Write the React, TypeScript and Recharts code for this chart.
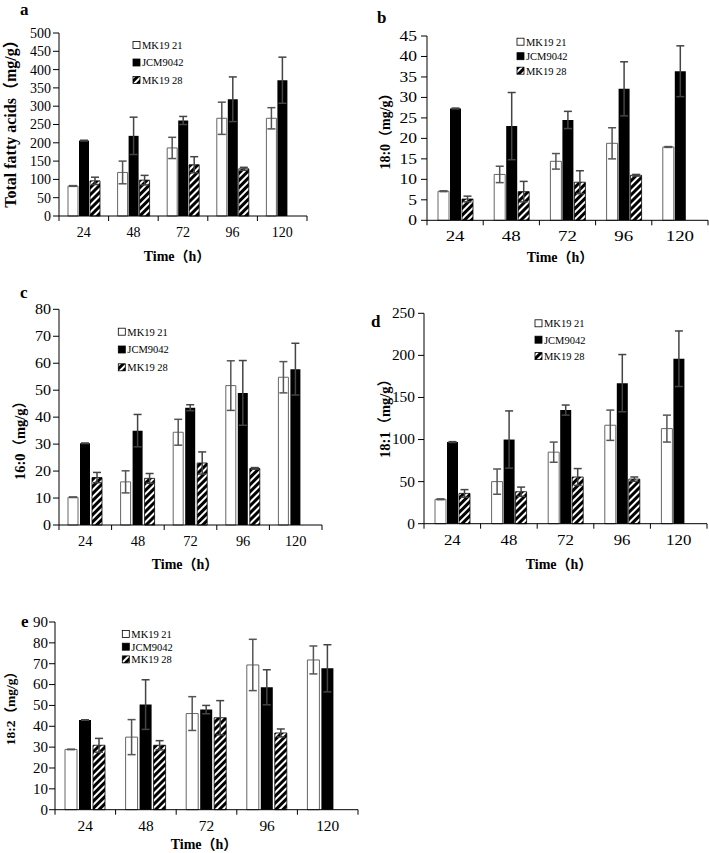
import React from "react";
import { BarChart, Bar, XAxis, YAxis, ErrorBar } from "recharts";

const times = ["24", "48", "72", "96", "120"];
const seriesNames = ["MK19 21", "JCM9042", "MK19 28"];

// a: total fatty acids
const totalMk21 = [82, 119, 186, 267, 267];
const totalMk21Err = [1, 31, 29, 44, 29];
const totalJcm = [206, 219, 261, 319, 371];
const totalJcmErr = [1, 51, 11, 61, 63];
const totalMk28 = [96, 98, 140, 129, null];
const totalMk28Err = [10, 13, 22, 4, null];
const totalTicks = [0, 50, 100, 150, 200, 250, 300, 350, 400, 450, 500];

// b: 18:0
const c180Mk21 = [7.1, 11.2, 14.4, 18.8, 17.9];
const c180Mk21Err = [0.1, 2.0, 1.9, 3.8, 0.1];
const c180Jcm = [27.3, 23.0, 24.5, 32.1, 36.4];
const c180JcmErr = [0.1, 8.2, 2.1, 6.6, 6.2];
const c180Mk28 = [5.2, 7.0, 9.3, 11.0, null];
const c180Mk28Err = [0.7, 2.5, 2.8, 0.2, null];
const c180Ticks = [0, 5, 10, 15, 20, 25, 30, 35, 40, 45];

// c: 16:0
const c160Mk21 = [10.3, 16.0, 34.4, 51.7, 54.8];
const c160Mk21Err = [0.1, 4.1, 4.8, 9.2, 5.8];
const c160Jcm = [30.3, 35.0, 43.5, 49.0, 57.8];
const c160JcmErr = [0.1, 6.0, 1.1, 12.0, 9.6];
const c160Mk28 = [17.6, 17.3, 23.0, 21.0, null];
const c160Mk28Err = [1.9, 1.8, 4.1, 0.3, null];
const c160Ticks = [0, 10, 20, 30, 40, 50, 60, 70, 80];

// d: 18:1
const c181Mk21 = [29, 50, 85, 117, 113];
const c181Mk21Err = [0.5, 15, 12, 18, 16];
const c181Jcm = [97, 100, 135, 167, 196];
const c181JcmErr = [0.5, 34, 6, 34, 33];
const c181Mk28 = [36, 38, 55.5, 53, null];
const c181Mk28Err = [4.5, 5.5, 10, 2.5, null];
const c181Ticks = [0, 50, 100, 150, 200, 250];

// e: 18:2
const c182Mk21 = [28.9, 34.8, 46.1, 69.4, 71.8];
const c182Mk21Err = [0.1, 8.4, 8.1, 12.3, 6.7];
const c182Jcm = [43.0, 50.4, 48.0, 58.7, 67.8];
const c182JcmErr = [0.1, 11.9, 2.0, 8.4, 11.3];
const c182Mk28 = [30.9, 30.9, 44.1, 36.8, null];
const c182Mk28Err = [3.3, 2.2, 8.2, 1.9, null];
const c182Ticks = [0, 10, 20, 30, 40, 50, 60, 70, 80, 90];

const SERIF = "'Liberation Serif', 'Times New Roman', Times, serif";
const TITLE_FONT = "'Liberation Serif', 'Times New Roman', 'Noto Sans CJK SC', serif";

function XTick(props: any) {
  const { x, y, payload, index, band, sx } = props;
  const left = x - band / 2;
  return (
    <g>
      <line x1={left} y1={y} x2={left} y2={y + 5} stroke="#000" />
      {index === times.length - 1 && (
        <line x1={x + band / 2} y1={y} x2={x + band / 2} y2={y + 5} stroke="#000" />
      )}
      <text
        transform={`translate(${x},${y + 21}) scale(${sx},1)`}
        textAnchor="middle"
        fontSize={14}
        fontFamily={SERIF}
        fill="#000"
      >
        {payload.value}
      </text>
    </g>
  );
}

function YTick(props: any) {
  const { x, y, payload, sx } = props;
  return (
    <text
      transform={`translate(${x},${y}) scale(${sx},1)`}
      textAnchor="end"
      dy="0.35em"
      fontSize={14}
      fontFamily={SERIF}
      fill="#000"
    >
      {payload.value}
    </text>
  );
}

function Panel(p: any) {
  const data = times.map((t, i) => ({
    t,
    mk21: p.mk21[i],
    mk21Err: p.mk21Err[i],
    jcm: p.jcm[i],
    jcmErr: p.jcmErr[i],
    mk28: p.mk28[i],
    mk28Err: p.mk28Err[i],
  }));
  const plotW = p.width - p.margin.left - p.margin.right - 45;
  const band = plotW / times.length;
  const hatchId = `hatch-${p.letter}`;
  const fills = ["#fff", "#000", `url(#${hatchId})`];
  return (
    <div style={{ position: "absolute", left: p.left, top: p.top }}>
      <BarChart
        width={p.width}
        height={p.height}
        data={data}
        margin={p.margin}
        barGap={p.barGap}
      >
        <defs>
          <pattern
            id={hatchId}
            width={5}
            height={5}
            patternUnits="userSpaceOnUse"
            patternTransform="rotate(45)"
          >
            <rect width={5} height={5} fill="#fff" />
            <rect width={3} height={5} fill="#000" />
          </pattern>
        </defs>
        <XAxis
          dataKey="t"
          height={30}
          interval={0}
          axisLine={{ stroke: "#000" }}
          tickLine={false}
          tickSize={0}
          tickMargin={0}
          tick={(tp: any) => <XTick {...tp} band={band} sx={p.xScale} />}
        />
        <YAxis
          type="number"
          width={45}
          domain={[0, p.yTicks[p.yTicks.length - 1]]}
          ticks={p.yTicks}
          interval={0}
          axisLine={{ stroke: "#000" }}
          tickLine={{ stroke: "#000" }}
          tickSize={6}
          tickMargin={p.tickMargin}
          tick={(tp: any) => <YTick {...tp} sx={p.yScale} />}
        />
        <Bar
          dataKey="mk21"
          name={seriesNames[0]}
          fill="#fff"
          stroke="#666"
          barSize={p.barSize}
          isAnimationActive={false}
        >
          <ErrorBar dataKey="mk21Err" width={4} stroke="#555" direction="y" />
        </Bar>
        <Bar
          dataKey="jcm"
          name={seriesNames[1]}
          fill="#000"
          barSize={p.barSize}
          isAnimationActive={false}
        >
          <ErrorBar dataKey="jcmErr" width={4} stroke="#444" direction="y" />
        </Bar>
        <Bar
          dataKey="mk28"
          name={seriesNames[2]}
          fill={`url(#${hatchId})`}
          stroke="#000"
          strokeWidth={0.8}
          barSize={p.barSize}
          isAnimationActive={false}
        >
          <ErrorBar dataKey="mk28Err" width={4} stroke="#444" direction="y" />
        </Bar>

        <text
          x={p.letterPos[0]}
          y={p.letterPos[1]}
          fontSize={17}
          fontWeight="bold"
          fontFamily={SERIF}
          fill="#000"
        >
          {p.letter}
        </text>
        <text
          transform={`translate(${p.yTitle[0]},${p.yTitle[1]}) rotate(-90)`}
          textAnchor="middle"
          dy="0.35em"
          fontSize={p.yTitle[2]}
          fontWeight="bold"
          fontFamily={TITLE_FONT}
          fill="#000"
        >
          {p.yLabel}
        </text>
        <text
          x={p.xTitle[0]}
          y={p.xTitle[1]}
          textAnchor="middle"
          fontSize={14}
          fontWeight="bold"
          fontFamily={TITLE_FONT}
          fill="#000"
        >
          Time（h）
        </text>
        {seriesNames.map((name, i) => {
          const ry = p.legend[1] + i * p.legend[2];
          return (
            <g key={name}>
              <rect
                x={p.legend[0]}
                y={ry - 3.5}
                width={7}
                height={7}
                fill={fills[i]}
                stroke="#000"
                strokeWidth={0.8}
              />
              <text
                x={p.legend[0] + 9}
                y={ry + 3.8}
                fontSize={10.5}
                fontFamily={SERIF}
                fill="#000"
              >
                {name}
              </text>
            </g>
          );
        })}
      </BarChart>
    </div>
  );
}

export default function App() {
  return (
    <div
      style={{
        position: "absolute",
        left: 0,
        top: 0,
        width: 709,
        height: 853,
        background: "#fff",
        overflow: "hidden",
      }}
    >
      <Panel
        letter="a"
        yLabel="Total fatty acids（mg/g）"
        mk21={totalMk21}
        mk21Err={totalMk21Err}
        jcm={totalJcm}
        jcmErr={totalJcmErr}
        mk28={totalMk28}
        mk28Err={totalMk28Err}
        yTicks={totalTicks}
        left={0}
        top={0}
        width={320}
        height={270}
        margin={{ top: 33, right: 13, bottom: 24, left: 14 }}
        barSize={10}
        barGap={1}
        xScale={1}
        yScale={1}
        tickMargin={2}
        letterPos={[20, 15]}
        yTitle={[10, 120, 16]}
        xTitle={[177, 261]}
        legend={[133, 45, 17.5]}
      />
      <Panel
        letter="b"
        yLabel="18:0（mg/g）"
        mk21={c180Mk21}
        mk21Err={c180Mk21Err}
        jcm={c180Jcm}
        jcmErr={c180JcmErr}
        mk28={c180Mk28}
        mk28Err={c180Mk28Err}
        yTicks={c180Ticks}
        left={350}
        top={0}
        width={359}
        height={270}
        margin={{ top: 36, right: 1, bottom: 19.7, left: 32 }}
        barSize={11}
        barGap={1}
        xScale={1.35}
        yScale={1.25}
        tickMargin={4}
        letterPos={[27, 23]}
        yTitle={[35, 128, 14]}
        xTitle={[210, 262]}
        legend={[167, 41.7, 14.5]}
      />
      <Panel
        letter="c"
        yLabel="16:0（mg/g）"
        mk21={c160Mk21}
        mk21Err={c160Mk21Err}
        jcm={c160Jcm}
        jcmErr={c160JcmErr}
        mk28={c160Mk28}
        mk28Err={c160Mk28Err}
        yTicks={c160Ticks}
        left={0}
        top={280}
        width={330}
        height={295}
        margin={{ top: 29.3, right: 8, bottom: 20, left: 14 }}
        barSize={10}
        barGap={2}
        xScale={1.03}
        yScale={1.15}
        tickMargin={2}
        letterPos={[20, 18]}
        yTitle={[20, 157, 14.5]}
        xTitle={[185, 289]}
        legend={[118.3, 51.7, 17.8]}
      />
      <Panel
        letter="d"
        yLabel="18:1（mg/g）"
        mk21={c181Mk21}
        mk21Err={c181Mk21Err}
        jcm={c181Jcm}
        jcmErr={c181JcmErr}
        mk28={c181Mk28}
        mk28Err={c181Mk28Err}
        yTicks={c181Ticks}
        left={350}
        top={280}
        width={359}
        height={295}
        margin={{ top: 33.3, right: 2, bottom: 21.3, left: 29 }}
        barSize={11}
        barGap={1}
        xScale={1.2}
        yScale={1.1}
        tickMargin={3}
        letterPos={[21, 47]}
        yTitle={[35, 135, 14.5]}
        xTitle={[209, 289]}
        legend={[185, 43.3, 16.4]}
      />
      <Panel
        letter="e"
        yLabel="18:2（mg/g）"
        mk21={c182Mk21}
        mk21Err={c182Mk21Err}
        jcm={c182Jcm}
        jcmErr={c182JcmErr}
        mk28={c182Mk28}
        mk28Err={c182Mk28Err}
        yTicks={c182Ticks}
        left={0}
        top={560}
        width={370}
        height={293}
        margin={{ top: 62, right: 12, bottom: 13.3, left: 10 }}
        barSize={12}
        barGap={2}
        xScale={1.1}
        yScale={1.07}
        tickMargin={1}
        letterPos={[21, 67]}
        yTitle={[10, 145, 13.5]}
        xTitle={[204, 289]}
        legend={[122.3, 74, 12.7]}
      />
    </div>
  );
}
